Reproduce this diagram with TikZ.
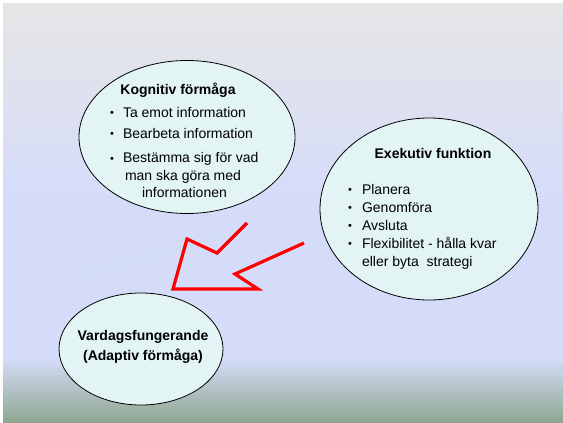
\documentclass[tikz,border=0pt]{standalone}
\usepackage{fontspec}
\setmainfont{Liberation Sans}
\usetikzlibrary{shapes.geometric,positioning,arrows.meta}
\definecolor{bubblefill}{HTML}{E3F4F4}
\definecolor{slidetop}{HTML}{E6E6E6}
\definecolor{slidemid}{HTML}{D5DCFA}
\definecolor{slidefoot}{HTML}{8EA68E}
\definecolor{hintline}{HTML}{BFE2E2}
\tikzset{bubble/.style={ellipse, draw=black, line width=0.8pt, fill=bubblefill, inner sep=0pt},
heading/.style={font=\fontsize{14}{20}\selectfont\bfseries, inner sep=0pt, align=center},
items/.style={font=\fontsize{14}{18}\selectfont, inner sep=0pt},
bigarrow/.style={red, line width=3.2pt}
}
\newcommand{\dotmark}{\raisebox{1pt}{\fontsize{11}{11}\selectfont •}}

\begin{document}
\begin{tikzpicture}[x=1pt, y=-1pt]
      % slide background
      \fill[white] (0,0) rectangle (563,423);
      \shade[top color=slidetop, bottom color=slidemid] (3,3) rectangle (563,200);
      \fill[slidemid] (3,200) rectangle (563,358);
      \shade[top color=slidemid, bottom color=slidefoot] (3,358) rectangle (563,423);
      \useasboundingbox (0,0) rectangle (563,423);

      % the three bubbles
      \node[bubble, minimum width=216pt, minimum height=153pt] (kognitiv) at (187,137) {};
      \node[bubble, minimum width=218pt, minimum height=182pt] (exekutiv) at (429,209) {};
      \node[bubble, minimum width=164pt, minimum height=112pt] (vardag)   at (141,349) {};

      \node[heading, anchor=base] (kog_title) at (178,94)  {Kognitiv förmåga};
      \node[items, anchor=base west] (kog_list) at (110,117) {%
        \begin{tabular}[t]{@{}l@{\hspace{9pt}}l@{}}
          \dotmark & Ta emot information\\[3pt]
          \dotmark & Bearbeta information\\[7pt]
          \dotmark & Bestämma sig för vad\\[-1pt]
                   & \hspace{2pt}man ska göra med\\
                   & \hspace{19pt}informationen
        \end{tabular}};

      \node[heading, anchor=base] (exe_title) at (433,158) {Exekutiv funktion};
      \node[items, anchor=base west] (exe_list) at (348,194) {%
        \begin{tabular}[t]{@{}l@{\hspace{10pt}}l@{}}
          \dotmark & Planera\\
          \dotmark & Genomföra\\
          \dotmark & Avsluta\\
          \dotmark & Flexibilitet - hålla kvar\\
                   & eller byta\ \ strategi
        \end{tabular}};

      \node[heading] (var_title) at (143,347) {Vardagsfungerande\\(Adaptiv förmåga)};

      % faint pointer
      \coordinate (hint_a) at (213,239);
      \coordinate (hint_b) at (82,274);
      \draw[hintline, line width=0.7pt, -{Stealth[length=4pt,width=3pt]}] (hint_a) -- (hint_b);

      % hollow red arrow
      \draw[bigarrow] (247,223) -- (217,253) -- (187,239) -- (173,289)
                      -- (258,289) -- (235,274) -- (304,243);
\end{tikzpicture}
\end{document}
